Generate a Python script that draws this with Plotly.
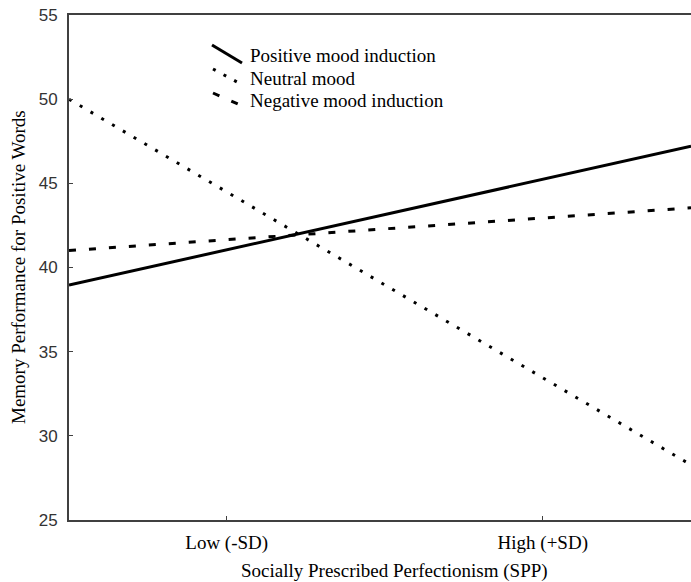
import plotly.graph_objects as go

# ---- data ----
categories = ["Low (-SD)", "High (+SD)"]
cat_pos = [0, 1]
positive_mood = [41.05, 45.24]
neutral_mood = [44.49, 33.45]
negative_mood = [41.65, 42.94]
series_names = ["Positive mood induction", "Neutral mood", "Negative mood induction"]
y_ticks = [25, 30, 35, 40, 45, 50, 55]

W, H = 691, 582
L, R, T, B = 69, 0, 15, 62
X_RANGE = [-0.499, 1.469]
Y_RANGE = [25, 55]
SERIF = "Liberation Serif, Times New Roman, serif"
SANS = "Liberation Sans, Arial, sans-serif"


def extend(vals):
    # simple-slope line through the two category points, drawn across the axis
    slope = (vals[1] - vals[0]) / (cat_pos[1] - cat_pos[0])
    xs = [X_RANGE[0], X_RANGE[1]]
    ys = [vals[0] + slope * (x - cat_pos[0]) for x in xs]
    return xs, ys


styles = [
    dict(color="black", width=3, dash="solid"),
    dict(color="black", width=3, dash="3px,9.5px"),
    dict(color="black", width=3, dash="7px,13px"),
]

fig = go.Figure()
for name, vals, st in zip(series_names, [positive_mood, neutral_mood, negative_mood], styles):
    xs, ys = extend(vals)
    fig.add_trace(go.Scatter(x=xs, y=ys, mode="lines", name=name, line=st,
                             showlegend=False, hoverinfo="skip"))

pw, ph = W - L - R, H - T - B


def px(x):
    return (x - L) / pw


def py(y):
    return (H - B - y) / ph


# custom legend (diagonal samples like the original)
legend_samples = [
    ((212, 45), (242, 63), "solid", 56),
    ((213, 69), (238, 82.5), "3px,9px", 78),
    ((213, 93), (238, 104), "7px,13px", 100),
]
for (p0, p1, dash, ty), name in zip(legend_samples, series_names):
    fig.add_shape(type="line", xref="paper", yref="paper",
                  x0=px(p0[0]), y0=py(p0[1]), x1=px(p1[0]), y1=py(p1[1]),
                  line=dict(color="black", width=3, dash=dash))
    fig.add_annotation(xref="paper", yref="paper", x=px(248), y=py(ty),
                       xanchor="left", yanchor="middle", text=name, showarrow=False,
                       font=dict(family=SERIF, size=19, color="black"))

fig.update_layout(
    width=W, height=H,
    margin=dict(l=L, r=R, t=T, b=B, pad=0),
    paper_bgcolor="white", plot_bgcolor="white",
    showlegend=False,
    xaxis=dict(range=X_RANGE, tickmode="array", tickvals=cat_pos, ticktext=categories,
               showgrid=False, zeroline=False, showline=True, mirror=True,
               linecolor="#404040", linewidth=2, ticks="inside", ticklen=4,
               tickcolor="#404040", tickwidth=1,
               tickfont=dict(family=SERIF, size=19, color="black"),
               ticklabelstandoff=4,
               title=None),
    yaxis=dict(range=Y_RANGE, tickmode="array", tickvals=y_ticks,
               showgrid=False, zeroline=False, showline=True,
               linecolor="#404040", linewidth=2, ticks="inside", ticklen=4,
               tickcolor="#404040", tickwidth=1,
               tickfont=dict(family=SANS, size=17, color="#333333"),
               ticklabelstandoff=6,
               title=None),
)

fig.add_annotation(xref="paper", yref="paper", x=px(394), y=py(571),
                   xanchor="center", yanchor="middle", showarrow=False,
                   text="Socially Prescribed Perfectionism (SPP)",
                   font=dict(family=SERIF, size=19, color="black"))
fig.add_annotation(xref="paper", yref="paper", x=px(18), y=py(267),
                   xanchor="center", yanchor="middle", showarrow=False, textangle=-90,
                   text="Memory Performance for Positive Words",
                   font=dict(family=SERIF, size=19, color="black"))

fig.write_html("out.html", config={"displayModeBar": False},
               post_script="document.body.style.margin='0';document.body.style.overflow='hidden';")
